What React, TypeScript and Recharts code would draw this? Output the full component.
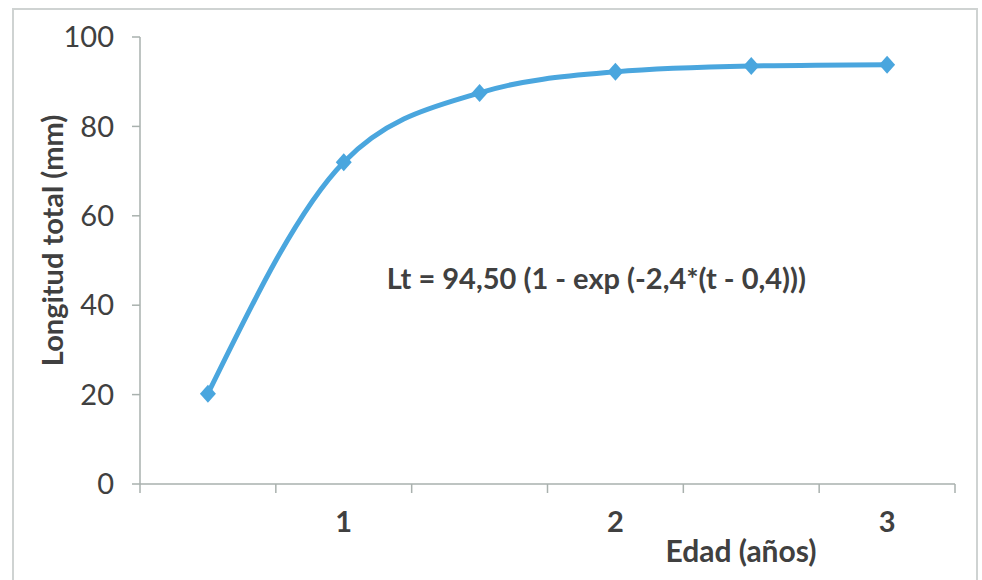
import { LineChart, Line, XAxis, YAxis, ReferenceDot } from 'recharts'

const ages = [0.5, 1, 1.5, 2, 2.5, 3]
const lengths = [20.2, 72, 87.5, 92.2, 93.5, 93.8]
const ageLabels = [1, 2, 3]
const ageBoundaries = [0.25, 0.75, 1.25, 1.75, 2.25, 2.75, 3.25]
const lengthTicks = [0, 20, 40, 60, 80, 100]

const data = ages.map((a, i) => ({ age: a, len: lengths[i] }))
const xTicks = [...ageBoundaries, ...ageLabels].sort((a, b) => a - b)

const LINE_BLUE = "#4aa6de"
const AXIS_GRAY = "#a9b1ae"
const TEXT_DARK = "#404040"
const FONT = "Lato, 'Open Sans', sans-serif"

const Diamond = (props: any) => {
    const { cx, cy } = props
    if (cx == null || cy == null) return null
    return <path d={`M${cx},${cy - 9} L${cx + 8},${cy} L${cx},${cy + 9} L${cx - 8},${cy} Z`} fill={LINE_BLUE} />
}

const XTick = (props: any) => {
    const { x, y, payload } = props
    if (ageLabels.includes(payload.value)) {
        return (
            <text x={x} y={y + 48} textAnchor="middle" fontSize={29} fontWeight="bold" fill={TEXT_DARK} fontFamily={FONT}>
                {payload.value}
            </text>
        )
    }
    return <line x1={x} y1={y} x2={x} y2={y + 9} stroke={AXIS_GRAY} strokeWidth={1.5} />
}

const YTitle = (props: any) => {
    const { viewBox } = props
    const x = viewBox.x + 32
    const y = viewBox.y + viewBox.height / 2 - 20
    return (
        <text x={x} y={y} transform={`rotate(-90, ${x}, ${y})`} textAnchor="middle" fontSize={29} fontWeight="bold" fill={TEXT_DARK} fontFamily={FONT}>
            Longitud total (mm)
        </text>
    )
}

const XTitle = (props: any) => {
    const { viewBox } = props
    return (
        <text x={viewBox.x + 601} y={viewBox.y + 78} textAnchor="middle" fontSize={30} fontWeight="bold" fill={TEXT_DARK} fontFamily={FONT}>
            Edad (años)
        </text>
    )
}

export default function App() {
    return (
        <div style={{ position: 'absolute', left: 0, top: 0, width: 982, height: 580, background: '#fff', overflow: 'hidden' }}>
            <div style={{ position: 'absolute', left: 12, top: 8, width: 966, height: 600, border: '2px solid #cfd3d2', boxSizing: 'border-box' }} />
            <div style={{ position: 'absolute', left: 0, top: 0 }}>
                <LineChart width={982} height={580} data={data} margin={{ top: 37, right: 27, left: 31, bottom: 26 }}>
                    <XAxis
                        dataKey="age"
                        type="number"
                        domain={[0.25, 3.25]}
                        ticks={xTicks}
                        interval={0}
                        tickLine={false}
                        tickSize={0}
                        tickMargin={0}
                        tick={<XTick />}
                        stroke={AXIS_GRAY}
                        strokeWidth={1.5}
                        height={70}
                        label={<XTitle />}
                    />
                    <YAxis
                        domain={[0, 100]}
                        ticks={lengthTicks}
                        interval={0}
                        width={109}
                        tickSize={8}
                        tickMargin={18}
                        stroke={AXIS_GRAY}
                        strokeWidth={1.5}
                        tick={{ fill: TEXT_DARK, fontSize: 29, fontFamily: FONT }}
                        label={<YTitle />}
                    />
                    <ReferenceDot
                        x={1.93}
                        y={46}
                        r={0}
                        fill="none"
                        stroke="none"
                        ifOverflow="visible"
                        label={{ value: 'Lt = 94,50 (1 - exp (-2,4*(t - 0,4)))', position: 'center', fontSize: 29, fontWeight: 'bold', fill: TEXT_DARK, fontFamily: FONT }}
                    />
                    <Line
                        type="monotone"
                        dataKey="len"
                        stroke={LINE_BLUE}
                        strokeWidth={5}
                        dot={<Diamond />}
                        activeDot={false}
                        isAnimationActive={false}
                    />
                </LineChart>
            </div>
        </div>
    )
}
